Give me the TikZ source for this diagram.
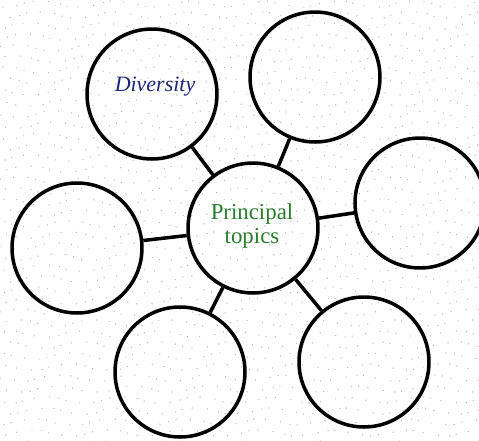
\documentclass[tikz,border=0pt]{standalone}
\usepackage{fontspec}
\setmainfont{Liberation Serif}
\definecolor{topicblue}{RGB}{28,36,120}
\definecolor{topicgreen}{RGB}{40,125,45}
\tikzset{
    bubble/.style={draw, circle, line width=2pt, minimum size=2.6cm, inner sep=0pt},
    spoke/.style={line width=2pt},
}
\begin{document}
\begin{tikzpicture}[x=0.02cm, y=-0.02cm]
            \useasboundingbox (0,0) rectangle (479,440);
            % faint dotted paper
            \foreach \y [evaluate=\y as \shift using {4.6*mod(\y,2)}] in {0,...,40} {
                    \foreach \x in {0,...,44} {
                            \fill[gray!55] ({\x*11 + \shift + 3*sin(97*\x + 61*\y) + 3}, {\y*11 + 3*cos(53*\x + 29*\y) + 4}) circle (0.4pt);
                        }
                }
            \node[bubble] (centre) at (253,228) {};
            \node[align=center, text=topicgreen, font=\fontsize{13}{14}\selectfont] (centrelabel) at (252,226) {Principal\\topics};
            \node[bubble] (diversity) at (152,94) {};  % top-left
            \node[text=topicblue, font=\fontsize{12.5}{14}\selectfont\itshape] (diversitylabel) at (155,87) {Diversity};
            \node[bubble] (topright) at (315,77) {};  % top-right
            \node[bubble] (right) at (420,203) {};  % right
            \node[bubble] (left) at (77,248) {};  % left
            \node[bubble] (bottomleft) at (180,372) {};  % bottom-left
            \node[bubble] (bottomright) at (364,362) {};  % bottom-right
            \foreach \n in {diversity,topright,right,left,bottomleft,bottomright} {
                    \draw[spoke] (centre) -- (\n);
                }
        \end{tikzpicture}
\end{document}
